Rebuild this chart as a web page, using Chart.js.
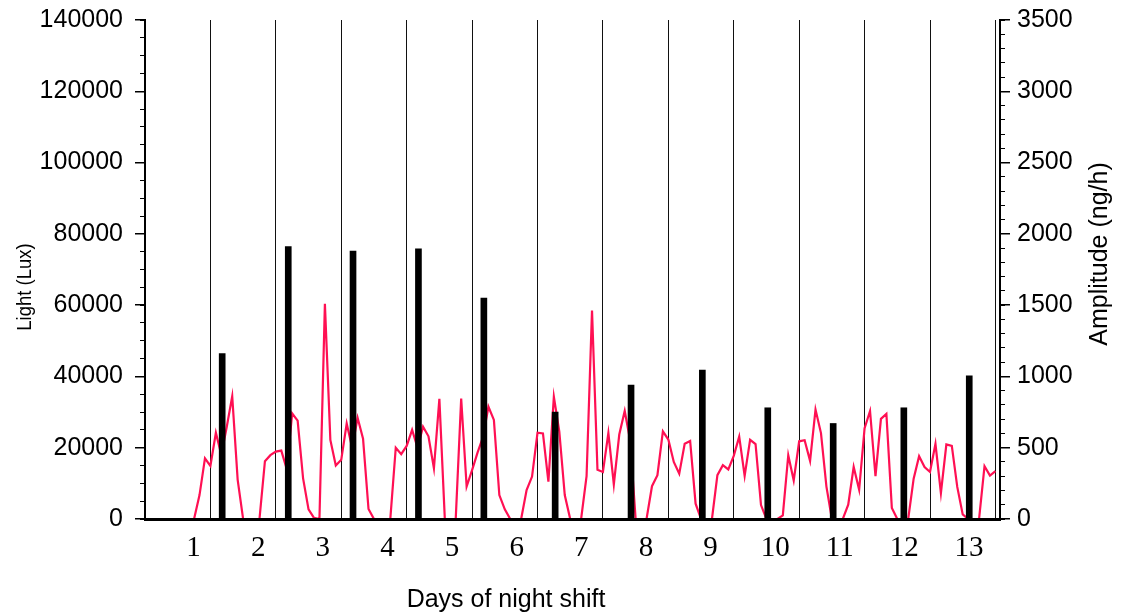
<!DOCTYPE html>
<html>
<head>
<meta charset="utf-8">
<title>Light exposure and melatonin amplitude during night shift</title>
<script src="https://cdn.jsdelivr.net/npm/chart.js@4/dist/chart.umd.min.js"></script>
<style>
  body { margin: 0; background: #fff; }
  #wrap { width: 1124px; height: 615px; }
</style>
</head>
<body>
<div id="wrap"><canvas id="lightChart"></canvas></div>
<script>
// light level (lux), one reading every 2 h, 12 per row = one day
const lux = [
  0, 0, 0, 0, 0, 0, 0, 0, 0, 0, 6700, 17000,
  14900, 24200, 18000, 25900, 34400, 11000, 0, 0, 0, 0, 16200, 17900,
  18900, 19200, 14000, 29600, 27600, 11400, 2700, 300, 0, 60400, 22200, 15000,
  16600, 26800, 20000, 28400, 22500, 2800, 0, 0, 0, 0, 20000, 18200,
  20500, 25000, 20000, 25900, 23200, 14200, 33700, 0, 0, 0, 33800, 9100,
  13700, 18600, 23000, 31500, 27800, 6700, 2700, 0, 0, 0, 8100, 11900,
  24200, 24000, 10500, 34300, 24500, 6700, 0, 0, 0, 12000, 58500, 13800,
  13200, 24100, 9700, 23700, 30300, 22000, 0, 0, 0, 9200, 12300, 24600,
  22300, 16000, 12700, 21100, 21900, 4300, 0, 0, 0, 12300, 15100, 13900,
  17700, 23100, 12100, 22200, 21000, 3900, 0, 0, 0, 1000, 17900, 10800,
  21800, 22100, 16300, 30700, 24100, 9100, 0, 0, 0, 4000, 14600, 8200,
  25500, 30300, 12000, 28100, 29500, 3100, 0, 0, 0, 11300, 17600, 14600,
  13200, 21100, 7300, 20900, 20500, 9000, 1300, 0, 0, 0, 14800, 12200,
  13400
];
const sampleHours = 2;

// melatonin amplitude (ng/h) and the time (in days) it was taken
const ampDay = [1.18, 2.19, 3.18, 4.18, 5.18, 6.27, 7.43, 8.52, 9.52, 10.52, 11.6, 12.6];
const amplitude = [1160, 1910, 1880, 1895, 1550, 750, 940, 1045, 780, 670, 780, 1005];

const dayLabels = ['1', '2', '3', '4', '5', '6', '7', '8', '9', '10', '11', '12', '13'];

const sans = "'Liberation Sans', Arial, sans-serif";
const serif = "'Liberation Serif', 'Times New Roman', serif";

Chart.defaults.font.family = sans;
Chart.defaults.color = '#000';

const lightPoints = lux.map((v, i) => ({ x: i * sampleHours / 24, y: v }));
const ampPoints = amplitude.map((v, i) => ({ x: ampDay[i], y: v }));

// fixed axis boxes; vertical axes don't reserve extra room above/below the plot
const fixWidth = w => scale => { scale.width = w; scale.paddingTop = 0; scale.paddingBottom = 0; };
const fixHeight = h => scale => { scale.height = h; };
const plain = { useGrouping: false };

// axis titles; both vertical ones read bottom-to-top
const axisTitles = {
  id: 'axisTitles',
  afterDraw(chart) {
    const { ctx } = chart;
    const put = (text, x, y, size, rot, squeeze = 1) => {
      ctx.save();
      ctx.translate(x, y);
      ctx.rotate(rot);
      ctx.scale(squeeze, 1);
      ctx.font = size + 'px ' + sans;
      ctx.fillStyle = '#000';
      ctx.textAlign = 'center';
      ctx.textBaseline = 'middle';
      ctx.fillText(text, 0, 0);
      ctx.restore();
    };
    put('Light (Lux)', 25, 287, 21, -Math.PI / 2, 0.88);
    put('Amplitude (ng/h)', 1100, 254, 25, -Math.PI / 2);
    put('Days of night shift', 506, 600, 25, 0);
  }
};

new Chart(document.getElementById('lightChart'), {
  type: 'line',
  data: {
    datasets: [
      {
        type: 'bar',
        data: ampPoints,
        xAxisID: 'x',
        yAxisID: 'y2',
        backgroundColor: '#000',
        barThickness: 6,
        order: 0
      },
      {
        type: 'line',
        data: lightPoints,
        xAxisID: 'x',
        yAxisID: 'y',
        borderColor: '#ff1053',
        borderWidth: 2.2,
        pointRadius: 0,
        tension: 0,
        clip: { left: 0, top: 0, right: 0, bottom: -1 },
        order: 1
      }
    ]
  },
  options: {
    responsive: true,
    maintainAspectRatio: false,
    animation: false,
    layout: { padding: { top: 20, left: 0, right: 0, bottom: 0 } },
    plugins: { legend: { display: false }, tooltip: { enabled: false } },
    scales: {
      x: {
        type: 'linear',
        position: 'bottom',
        weight: 0,
        min: 0,
        max: 13.07,
        offset: false,
        ticks: { display: false, stepSize: 1, includeBounds: false },
        grid: { color: '#111', lineWidth: 1, drawTicks: false, offset: false },
        border: { display: true, color: '#000', width: 3 },
        afterFit: fixHeight(0)
      },
      xDays: {
        type: 'linear',
        position: 'bottom',
        weight: 1,
        min: 0.248,
        max: 13.48,
        grid: { display: false },
        border: { display: false },
        afterBuildTicks: scale => { scale.ticks = dayLabels.map((_, i) => ({ value: i + 1 })); },
        ticks: {
          autoSkip: false,
          maxRotation: 0,
          padding: 4,
          font: { family: serif, size: 29 },
          callback: v => dayLabels[v - 1]
        },
        afterFit: fixHeight(96)
      },
      y: {
        position: 'left',
        weight: 1,
        min: 0,
        max: 140000,
        ticks: { stepSize: 20000, padding: 12, font: { size: 25 }, format: plain },
        grid: { drawOnChartArea: false, tickLength: 10, color: '#000', lineWidth: 1.5 },
        border: { color: '#000', width: 2 },
        afterFit: fixWidth(145)
      },
      yMinor: {
        position: 'left',
        weight: 0,
        min: 0,
        max: 140000,
        ticks: { display: false, stepSize: 5000 },
        grid: { drawOnChartArea: false, tickLength: 5, color: '#000', lineWidth: 1 },
        border: { display: false },
        afterFit: fixWidth(0)
      },
      y2: {
        position: 'right',
        weight: 1,
        min: 0,
        max: 3500,
        ticks: { stepSize: 500, padding: 7, font: { size: 25 }, format: plain },
        grid: { drawOnChartArea: false, tickLength: 10, color: '#000', lineWidth: 1.5 },
        border: { color: '#000', width: 2 },
        afterFit: fixWidth(124)
      },
      y2Minor: {
        position: 'right',
        weight: 0,
        min: 0,
        max: 3500,
        ticks: { display: false, stepSize: 100 },
        grid: { drawOnChartArea: false, tickLength: 5, color: '#000', lineWidth: 1 },
        border: { display: false },
        afterFit: fixWidth(0)
      }
    }
  },
  plugins: [axisTitles]
});
</script>
</body>
</html>
